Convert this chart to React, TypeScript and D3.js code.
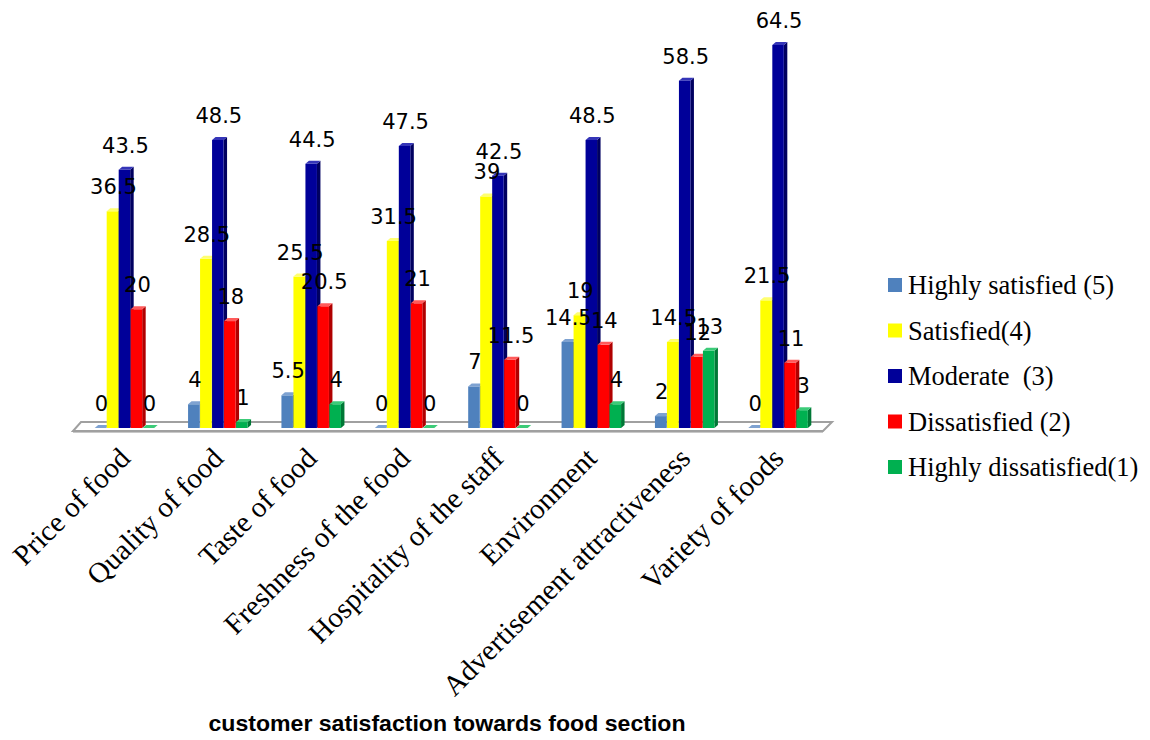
import React from "react";
import * as d3 from "d3";

const categories = [
  "Price of food",
  "Quality of food",
  "Taste of food",
  "Freshness of the food",
  "Hospitality of the staff",
  "Environment",
  "Advertisement attractiveness",
  "Variety of foods",
];
const seriesNames = [
  "Highly satisfied (5)",
  "Satisfied(4)",
  "Moderate  (3)",
  "Dissatisfied (2)",
  "Highly dissatisfied(1)",
];
const highlySatisfied = [0, 4, 5.5, 0, 7, 14.5, 2, 0];
const satisfied = [36.5, 28.5, 25.5, 31.5, 39, 19, 14.5, 21.5];
const moderate = [43.5, 48.5, 44.5, 47.5, 42.5, 48.5, 58.5, 64.5];
const dissatisfied = [20, 18, 20.5, 21, 11.5, 14, 12, 11];
const highlyDissatisfied = [0, 1, 4, 0, 0, 4, 13, 3];
const seriesValues = [highlySatisfied, satisfied, moderate, dissatisfied, highlyDissatisfied];
const title = "customer satisfaction towards food section";

const colors = [
  { front: "#4F81BD", side: "#36618F", top: "#7EA2D1" },
  { front: "#FFFF00", side: "#C8C800", top: "#FFFF70" },
  { front: "#000099", side: "#000060", top: "#3535B8" },
  { front: "#FF0000", side: "#B00000", top: "#FF5A5A" },
  { front: "#00B050", side: "#007836", top: "#3CCB78" },
];

export default function App() {
  const W = 1150;
  const H = 740;
  const baseY = 428;
  const x0 = d3.scaleBand<string>().domain(categories).range([78, 825]).padding(0);
  const x1 = d3.scaleBand<string>().domain(seriesNames).range([-30, 30]).padding(0);
  const y = d3.scaleLinear().domain([0, 64.5]).range([baseY, 45]);
  const bw = 11.5;
  const dx = 3.5;
  const dy = 3;

  return (
    <svg width={W} height={H} style={{ display: "block", margin: "-8px", background: "#fff" }}>
      <rect width={W} height={H} fill="#fff" />
      {/* floor */}
      <polygon
        points={`73,431 823,431 832,422 81,422`}
        fill="#fff"
        stroke="#A0A0A0"
        strokeWidth={2}
      />
      <line x1={73} y1={432.5} x2={823} y2={432.5} stroke="#C8C8C8" strokeWidth={1} />
      {/* bars */}
      {categories.map((cat, i) => {
        const cx = (x0(cat) as number) + x0.bandwidth() / 2;
        return (
          <g key={cat}>
            {seriesNames.map((s, j) => {
              const v = seriesValues[j][i];
              const left = cx + (x1(s) as number);
              const top = y(v);
              const c = colors[j];
              return (
                <g key={s}>
                  <polygon
                    points={`${left + bw},${baseY} ${left + bw + dx},${baseY - dy} ${left + bw + dx},${top - dy} ${left + bw},${top}`}
                    fill={c.side}
                  />
                  <rect x={left} y={top} width={bw} height={baseY - top} fill={c.front} />
                  <polygon
                    points={`${left},${top} ${left + bw},${top} ${left + bw + dx},${top - dy} ${left + dx},${top - dy}`}
                    fill={c.top}
                  />
                </g>
              );
            })}
          </g>
        );
      })}
      {/* data labels */}
      {categories.map((cat, i) => {
        const cx = (x0(cat) as number) + x0.bandwidth() / 2;
        return seriesNames.map((s, j) => {
          const v = seriesValues[j][i];
          const bx = cx + (x1(s) as number) + bw / 2 + 1;
          return (
            <text
              key={cat + s}
              x={bx}
              y={y(v) - 17}
              textAnchor="middle"
              fontFamily="DejaVu Sans"
              fontSize={21}
              fill="#000"
            >
              {v}
            </text>
          );
        });
      })}
      {/* category labels */}
      {categories.map((cat) => {
        const cx = (x0(cat) as number) + x0.bandwidth() / 2;
        const ax = cx + 7;
        const ay = 460;
        return (
          <text
            key={cat}
            x={ax}
            y={ay}
            transform={`rotate(-45 ${ax} ${ay})`}
            textAnchor="end"
            fontFamily="Liberation Serif"
            fontSize={29}
            fill="#000"
          >
            {cat}
          </text>
        );
      })}
      {/* legend */}
      {seriesNames.map((s, j) => {
        const cy = 285 + j * 45.5;
        return (
          <g key={s}>
            <rect x={888} y={cy - 7} width={14} height={14} fill={colors[j].front} />
            <text
              x={908}
              y={cy + 9}
              fontFamily="Liberation Serif"
              fontSize={26.5}
              fill="#000"
              style={{ whiteSpace: "pre" }}
            >
              {s}
            </text>
          </g>
        );
      })}
      {/* title */}
      <text
        x={447}
        y={731}
        textAnchor="middle"
        fontFamily="Liberation Sans"
        fontWeight="bold"
        fontSize={22}
        textLength={477}
        lengthAdjust="spacingAndGlyphs"
        fill="#000"
      >
        {title}
      </text>
    </svg>
  );
}
